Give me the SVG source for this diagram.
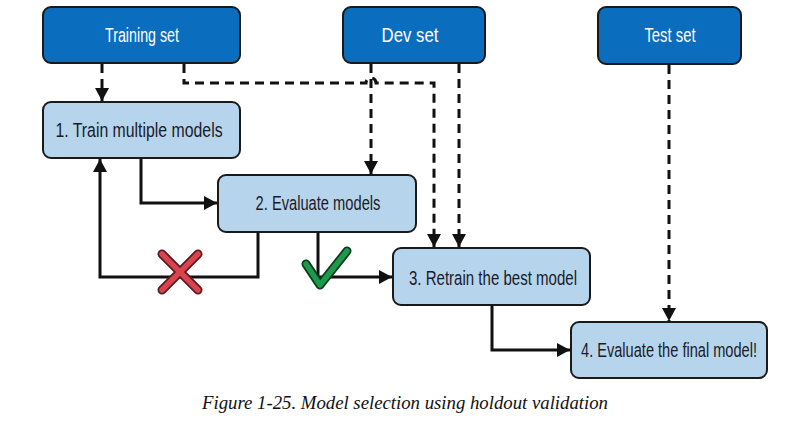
<svg xmlns="http://www.w3.org/2000/svg" width="795" height="433" viewBox="0 0 795 433">
<style>
.dark{fill:#0b6dbd;stroke:#1a1a1a;stroke-width:2}
.light{fill:#b6d5ec;stroke:#1a1a1a;stroke-width:2}
.lbl{font-family:"Liberation Sans Narrow","Liberation Sans",Arial,sans-serif;font-size:19.5px;text-anchor:middle}
.w{fill:#ffffff}
.b{fill:#1a1a2a}
.dash{fill:none;stroke:#111;stroke-width:3;stroke-dasharray:9 6}
.solid{fill:none;stroke:#111;stroke-width:3}
.cap{font-family:"Liberation Serif","Times New Roman",serif;font-style:italic;font-size:18.5px;fill:#111;text-anchor:middle}
</style>
<defs>
<marker id="ah" markerUnits="userSpaceOnUse" markerWidth="14" markerHeight="14" viewBox="0 0 14 14" refX="13" refY="7" orient="auto">
<path d="M0,0 L13,7 L0,14 z" fill="#111"/>
</marker>
</defs>
<rect width="795" height="433" fill="#ffffff"/>
<g id="connectors">
<path class="dash" d="M102,64 V101" marker-end="url(#ah)"/>
<path class="dash" d="M184,64 V83 H366 A5,5 0 0 1 376,83 H434 V247" marker-end="url(#ah)"/>
<path class="dash" d="M371,64 V174" marker-end="url(#ah)"/>
<path class="dash" d="M459,64 V247" marker-end="url(#ah)"/>
<path class="dash" d="M669,65 V321" marker-end="url(#ah)"/>
<path class="solid" d="M141,159 V203 H217" marker-end="url(#ah)"/>
<path class="solid" d="M258,233 V277 H100 V159" marker-end="url(#ah)"/>
<path class="solid" d="M318,233 V277 H392" marker-end="url(#ah)"/>
<path class="solid" d="M492,306 V350 H570" marker-end="url(#ah)"/>
</g>
<g id="cross">
<path d="M162,254 L198,290 M198,254 L162,290" stroke="#5a1a1e" stroke-width="9" stroke-linecap="round" fill="none"/>
<path d="M162,254 L198,290 M198,254 L162,290" stroke="#d9434d" stroke-width="5.5" stroke-linecap="round" fill="none"/>
</g>
<g id="check">
<path d="M306,264 L320,285 L347,251" stroke="#0d3a1c" stroke-width="9" stroke-linecap="round" stroke-linejoin="round" fill="none"/>
<path d="M306,264 L320,285 L347,251" stroke="#1b9a4c" stroke-width="5.5" stroke-linecap="round" stroke-linejoin="round" fill="none"/>
</g>
<g id="training-set">
<rect class="dark" x="43" y="7" width="197" height="56" rx="8"/>
<text class="lbl w" transform="translate(142,42) scale(0.8,1)" textLength="92.5" lengthAdjust="spacingAndGlyphs">Training set</text>
</g>
<g id="dev-set">
<rect class="dark" x="343" y="7" width="142" height="56" rx="8"/>
<text class="lbl w" transform="translate(410,42) scale(0.8,1)" textLength="71" lengthAdjust="spacingAndGlyphs">Dev set</text>
</g>
<g id="test-set">
<rect class="dark" x="598" y="7" width="143" height="57" rx="8"/>
<text class="lbl w" transform="translate(670,42) scale(0.8,1)" textLength="64" lengthAdjust="spacingAndGlyphs">Test set</text>
</g>
<g id="train-models">
<rect class="light" x="43" y="102" width="197" height="56" rx="8"/>
<text class="lbl b" transform="translate(139,137) scale(0.8,1)" textLength="209" lengthAdjust="spacingAndGlyphs">1. Train multiple models</text>
</g>
<g id="evaluate-models">
<rect class="light" x="218" y="175" width="198" height="57" rx="8"/>
<text class="lbl b" transform="translate(318,210) scale(0.8,1)" textLength="156" lengthAdjust="spacingAndGlyphs">2. Evaluate models</text>
</g>
<g id="retrain-best">
<rect class="light" x="393" y="248" width="197" height="57" rx="8"/>
<text class="lbl b" transform="translate(493,285) scale(0.8,1)" textLength="210" lengthAdjust="spacingAndGlyphs">3. Retrain the best model</text>
</g>
<g id="evaluate-final">
<rect class="light" x="571" y="322" width="196" height="56" rx="8"/>
<text class="lbl b" transform="translate(669,357) scale(0.8,1)" textLength="220" lengthAdjust="spacingAndGlyphs">4. Evaluate the final model!</text>
</g>
<text class="cap" x="405" y="409" textLength="406" lengthAdjust="spacingAndGlyphs">Figure 1-25. Model selection using holdout validation</text>
</svg>
